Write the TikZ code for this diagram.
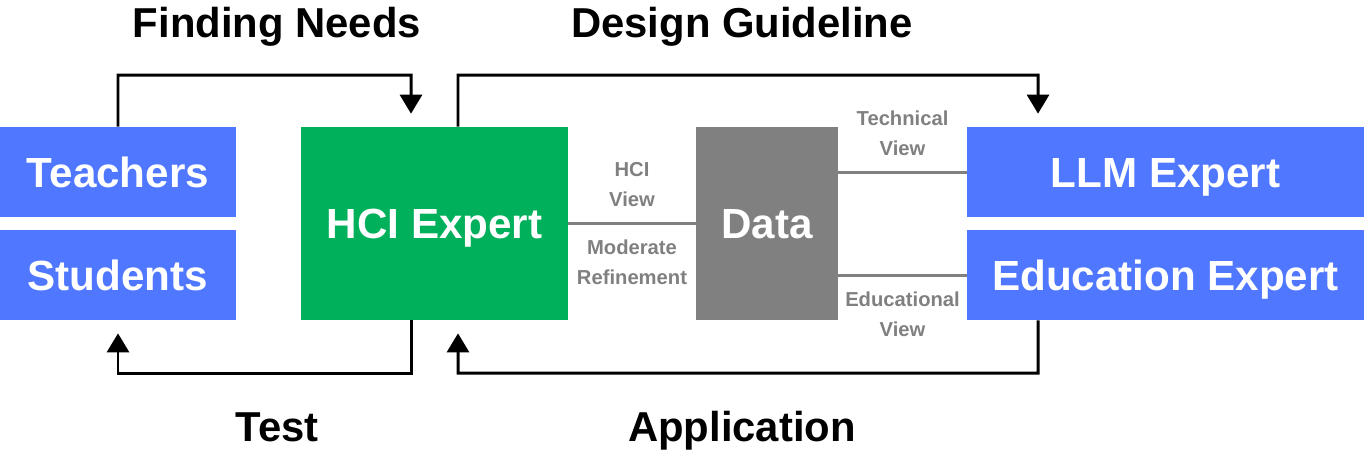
\documentclass[tikz,border=0pt]{standalone}
\usepackage{fontspec}
\setmainfont{Liberation Sans}
\usetikzlibrary{arrows.meta}
\definecolor{roleblue}{HTML}{4F77FF}
\definecolor{hcigreen}{HTML}{00B05A}
\definecolor{datagray}{HTML}{808080}
\tikzset{every node/.style={inner sep=0pt}}
\tikzset{box/.style={rectangle,text=white,text height=17.2pt,text depth=0pt,font=\fontsize{24}{28}\selectfont\bfseries}}
\tikzset{flow/.style={line width=1.7pt,-{Triangle[width=0.44cm,length=0.38cm]},shorten >=0.26cm}}
\tikzset{link/.style={line width=1.7pt,draw=datagray}}
\tikzset{lbl/.style={text=datagray,align=center,font=\fontsize{11.5}{17}\selectfont\bfseries}}
\tikzset{ttl/.style={text height=17pt,text depth=0pt,font=\fontsize{23.8}{28}\selectfont\bfseries}}

\begin{document}
\begin{tikzpicture}[x=0.02cm,y=-0.02cm]
      \useasboundingbox (0,0) rectangle (1364,451);
      % people
      \node[box,fill=roleblue,minimum width=4.72cm,minimum height=1.8cm] (teach) at (118,172) {Teachers};
      \node[box,fill=roleblue,minimum width=4.72cm,minimum height=1.8cm] (stud) at (118,275) {Students};
      \node[box,fill=hcigreen,minimum width=5.34cm,minimum height=3.86cm] (hci) at (434.5,223.5) {HCI Expert};
      \node[box,fill=datagray,minimum width=2.84cm,minimum height=3.86cm] (data) at (767,223.5) {Data};
      \node[box,fill=roleblue,minimum width=7.94cm,minimum height=1.8cm] (llm) at (1165.5,172) {LLM Expert};
      \node[box,fill=roleblue,minimum width=7.94cm,minimum height=1.8cm] (edu) at (1165.5,275) {Education Expert};
      % titles
      \node[ttl] (find) at (277,23) {Finding Needs};
      \node[ttl] (guide) at (742,23) {Design Guideline};
      \node[ttl] (test) at (277,427) {Test};
      \node[ttl] (appl) at (742,427) {Application};
      % loops
        \draw[flow] (teach.north) |- (411,75) -- ([xshift=-0.47cm]hci.north);
        \draw[flow] ([xshift=0.47cm]hci.north) |- (1038,75) -- ([xshift=-2.55cm]llm.north);
        \draw[flow] ([xshift=-0.47cm]hci.south) |- (118,373) -- (stud.south);
        \draw[flow] ([xshift=-2.55cm]edu.south) |- (458,373) -- ([xshift=0.47cm]hci.south);
      % views
        \draw[link] (hci.east) -- node[lbl,above=0.3cm] {HCI\\View} node[lbl,below=0.3cm] {Moderate\\Refinement} (data.west);
        \draw[link] (data.east |- llm.west) -- node[lbl,above=0.3cm] {Technical\\View} (llm.west);
        \draw[link] (data.east |- edu.west) -- node[lbl,below=0.3cm] {Educational\\View} (edu.west);
    \end{tikzpicture}
\end{document}
